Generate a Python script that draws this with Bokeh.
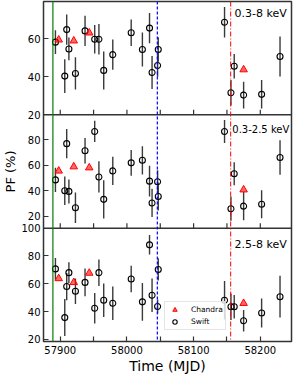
import numpy as np
from bokeh.plotting import figure
from bokeh.models import (ColumnDataSource, Span, Label, Legend, LegendItem,
                          FixedTicker, Range1d)
from bokeh.embed import file_html
from bokeh.resources import INLINE

# ---------------- data ----------------
swift_mjd = [57892.8, 57906.8, 57909.7, 57913.0, 57922.8, 57937.2, 57951.7, 57958.0,
             57965.2, 57978.8, 58006.4, 58023.2, 58033.9, 58037.7, 58046.0, 58047.0,
             58146.4, 58156.0, 58160.9, 58175.0, 58202.0, 58229.6]
# 0.3-8 keV
pf_broad = [58.3, 40.4, 64.9, 54.7, 41.8, 64.2, 59.8, 59.8, 43.4, 51.7, 63.2, 54.4,
            65.7, 42.3, 46.0, 54.4, 68.8, 31.6, 45.6, 30.4, 30.8, 50.7]
pf_broad_err = [6.3, 8.9, 8.0, 6.0, 8.5, 8.0, 7.5, 8.0, 10.0, 8.0, 7.0, 9.0,
                8.0, 8.7, 6.0, 6.5, 8.0, 6.7, 6.5, 7.0, 7.5, 10.5]
# 0.3-2.5 keV
pf_soft = [48.5, 40.0, 76.8, 39.5, 26.8, 71.3, 86.3, 50.8, 33.3, 55.5, 61.8, 63.8,
           47.5, 30.5, 47.0, 35.5, 86.3, 26.0, 53.3, 28.0, 29.5, 66.0]
pf_soft_err = [9.5, 11.2, 11.5, 9.4, 11.9, 10.0, 8.3, 12.2, 15.0, 11.0, 10.0, 11.0,
               12.0, 11.0, 9.0, 11.0, 9.0, 9.5, 9.0, 11.0, 11.0, 13.5]
# 2.5-8 keV
pf_hard = [70.7, 35.7, 58.0, 68.0, 54.6, 61.0, 42.4, 68.0, 48.2, 46.0, 63.4, 47.0,
           88.0, 51.8, 43.7, 70.3, 48.2, 43.5, 43.5, 33.4, 39.0, 50.7]
pf_hard_err = [7.8, 13.3, 9.8, 7.5, 9.2, 10.0, 11.0, 9.5, 12.0, 12.0, 9.5, 13.5,
               7.0, 12.0, 5.0, 8.0, 13.8, 9.5, 8.5, 7.7, 10.5, 15.0]

chandra_mjd = [57897.7, 57920.3, 57943.5, 58175.0]
chandra_broad = [59.5, 59.0, 63.2, 43.8]
chandra_soft = [55.5, 58.8, 58.0, 40.8]
chandra_hard = [63.8, 61.0, 67.7, 46.0]

panel_labels = ["0.3-8 keV", "0.3-2.5 keV", "2.5-8 keV"]
event_mjd = [57889.0, 58045.6, 58155.6]
x_major_ticks = [57900, 58000, 58100, 58200]
x_minor_ticks = [57950, 58050, 58150]
y_ticks = [[20, 40, 60], [20, 40, 60, 80], [20, 40, 60, 80, 100]]
y_limits = [(20, 79.7), (10.8, 99.3), (18.5, 100)]
x_limits = (57874.9, 58246.8)

# ---------------- styling ----------------
FONT = "DejaVu Sans"
FRAME = "#333333"
N = 3  # panels stacked; panel k (0 = top) occupies virtual band [N-1-k, N-k]
H = 376
BT, BB = 1, 34

p = figure(width=293, height=H, x_range=Range1d(*x_limits), y_range=Range1d(0, N),
           output_backend="svg", toolbar_location=None,
           min_border_left=30, min_border_right=2, min_border_top=BT, min_border_bottom=BB)
p.grid.visible = False
p.outline_line_color = FRAME
p.outline_line_width = 1.5

# per-panel data ranges mapped onto their band of the frame
tick_pos, tick_text = [], {}
for k, (lo, hi) in enumerate(y_limits):
    L = hi - lo
    band0 = N - 1 - k
    p.extra_y_ranges[f"p{k}"] = Range1d(lo - band0 * L, hi + k * L)
    for t in y_ticks[k]:
        v = band0 + (t - lo) / L
        tick_pos.append(v)
        tick_text[v] = str(t)

yax = p.yaxis[0]
yax.ticker = FixedTicker(ticks=tick_pos)
yax.major_label_overrides = tick_text
yax.axis_line_color = None
yax.major_tick_in = 5
yax.major_tick_out = 0
yax.minor_tick_line_color = None
yax.major_tick_line_color = FRAME
yax.major_tick_line_width = 1.2
yax.major_label_text_font = FONT
yax.major_label_text_font_size = "10px"
yax.major_label_text_color = "black"
yax.major_label_standoff = 3
yax.axis_label = "PF (%)"
yax.axis_label_text_font = FONT
yax.axis_label_text_font_size = "13px"
yax.axis_label_text_font_style = "normal"
yax.axis_label_text_color = "black"
yax.axis_label_standoff = 0

xax = p.xaxis[0]
xax.ticker = FixedTicker(ticks=x_major_ticks, minor_ticks=x_minor_ticks)
xax.axis_line_color = None
xax.major_tick_in = 5
xax.major_tick_out = 0
xax.minor_tick_in = 5
xax.minor_tick_out = 0
xax.major_tick_line_color = FRAME
xax.minor_tick_line_color = FRAME
xax.major_tick_line_width = 1.2
xax.minor_tick_line_width = 1.2
xax.major_label_text_font = FONT
xax.major_label_text_font_size = "10px"
xax.major_label_text_color = "black"
xax.major_label_standoff = 4
xax.axis_label = "Time (MJD)"
xax.axis_label_text_font = FONT
xax.axis_label_text_font_size = "14px"
xax.axis_label_text_font_style = "normal"
xax.axis_label_text_color = "black"
xax.axis_label_standoff = 1

# panel separators and their inward x ticks
band_px = (H - BT - BB) / N
tick_len = 5.0 / band_px
all_x_ticks = x_major_ticks + x_minor_ticks
for b in range(1, N):
    p.add_layout(Span(location=b, dimension="width", line_color=FRAME, line_width=1.5))
    p.segment(x0=all_x_ticks, x1=all_x_ticks, y0=[b] * len(all_x_ticks),
              y1=[b + tick_len] * len(all_x_ticks), line_color=FRAME, line_width=1.2)

# event lines
p.add_layout(Span(location=event_mjd[0], dimension="height",
                  line_color="#008000", line_width=1.2))
p.add_layout(Span(location=event_mjd[1], dimension="height",
                  line_color="#0000ff", line_width=1.2, line_dash="3 2"))
p.add_layout(Span(location=event_mjd[2], dimension="height",
                  line_color="#ff0000", line_width=1.0, line_dash="5 2 1 2"))

series = [(pf_broad, pf_broad_err, chandra_broad),
          (pf_soft, pf_soft_err, chandra_soft),
          (pf_hard, pf_hard_err, chandra_hard)]

label_x = [58161.5, 58158.0, 58161.5]
label_size = ["11px", "10px", "11px"]
label_drop_px = [12.5, 15.0, 16.5]
for k, (pf, err, cpf) in enumerate(series):
    rn = f"p{k}"
    pf_a = np.array(pf)
    err_a = np.array(err)
    src = ColumnDataSource(dict(x=swift_mjd, y=pf, lo=pf_a - err_a, hi=pf_a + err_a))
    p.segment(x0="x", y0="lo", x1="x", y1="hi", source=src, y_range_name=rn,
              line_color="#3a3a3a", line_width=1.4)
    circ = p.scatter(x="x", y="y", source=src, marker="circle", size=6, y_range_name=rn,
                     fill_color=None, line_color="black", line_width=1.1)
    csrc = ColumnDataSource(dict(x=chandra_mjd, y=cpf))
    tri = p.scatter(x="x", y="y", source=csrc, marker="triangle", size=7.5,
                    y_range_name=rn, fill_color="red", fill_alpha=0.6,
                    line_color="red", line_width=1)
    p.add_layout(Label(x=label_x[k], y=N - k - label_drop_px[k] / band_px,
                       text=panel_labels[k], text_font=FONT,
                       text_font_size=label_size[k], text_color="black",
                       text_baseline="middle", text_align="left"))
    if k == N - 1:
        legend = Legend(items=[LegendItem(label="Chandra", renderers=[tri]),
                               LegendItem(label="Swift", renderers=[circ])],
                        location=(121, 11))
        legend.label_text_font = FONT
        legend.label_text_font_size = "7.5px"
        legend.label_text_color = "black"
        legend.glyph_width = 15
        legend.glyph_height = 11
        legend.label_height = 11
        legend.label_standoff = 9
        legend.spacing = 1
        legend.padding = 2
        legend.margin = 0
        legend.border_line_color = "#cccccc"
        legend.border_line_width = 1
        legend.background_fill_alpha = 0.8
        p.add_layout(legend)

open("out.html", "w").write(file_html(p, INLINE))
